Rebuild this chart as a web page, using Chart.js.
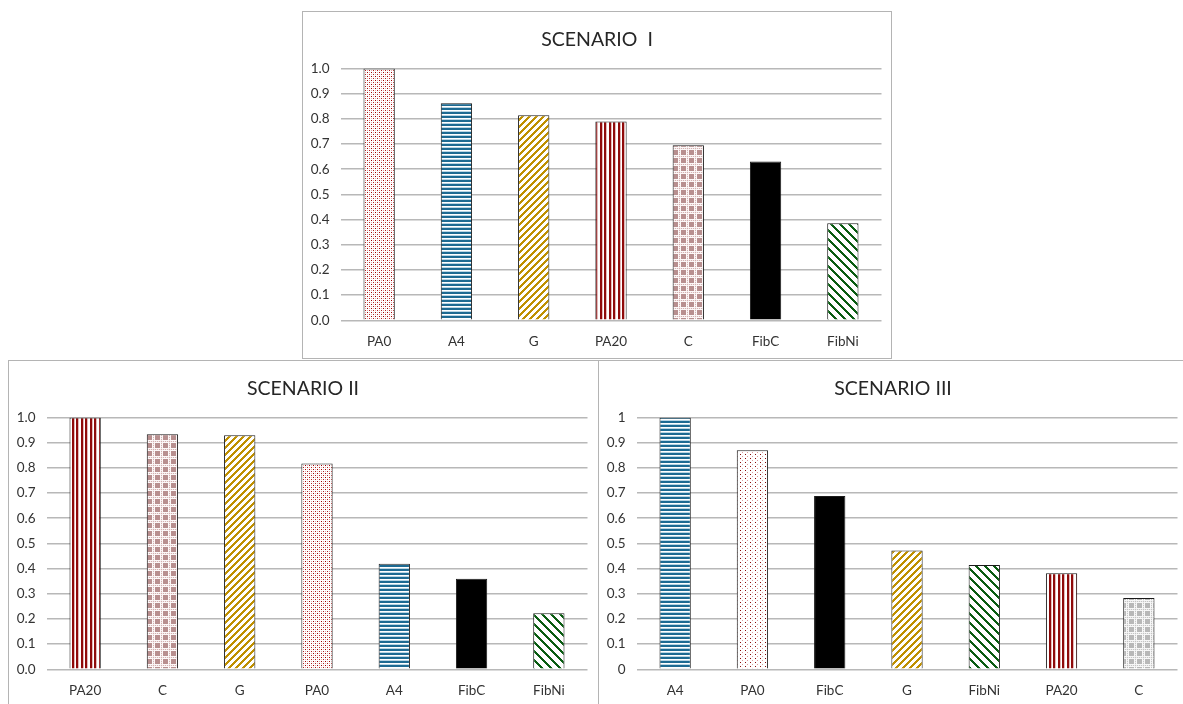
<!DOCTYPE html>
<html><head><meta charset="utf-8">
<script src="https://cdn.jsdelivr.net/npm/chart.js@4.4.1/dist/chart.umd.min.js"></script>
<style>
html,body{margin:0;padding:0;background:#fff;overflow:hidden;width:1183px;height:704px;}
.box{position:absolute;border:1px solid #b4b4b4;background:#fff;box-sizing:border-box;}
.box canvas{position:absolute;left:0;top:0;}
</style></head><body>
<div class="box" style="left:302px;top:11px;width:590px;height:348px"><canvas id="c1" width="588" height="346"></canvas></div>
<div class="box" style="left:8px;top:360px;width:591px;height:360px"><canvas id="c2" width="588" height="346"></canvas></div>
<div class="box" style="left:598px;top:360px;width:591px;height:360px"><canvas id="c3" width="588" height="346"></canvas></div>
<script>
// ---- data ----
const titleI = 'SCENARIO  I';
const categoriesI = ['PA0', 'A4', 'G', 'PA20', 'C', 'FibC', 'FibNi'];
const valuesI = [1.0, 0.862, 0.814, 0.790, 0.695, 0.631, 0.385];

const titleII = 'SCENARIO II';
const categoriesII = ['PA20', 'C', 'G', 'PA0', 'A4', 'FibC', 'FibNi'];
const valuesII = [1.0, 0.933, 0.930, 0.817, 0.419, 0.360, 0.223];

const titleIII = 'SCENARIO III';
const categoriesIII = ['A4', 'PA0', 'FibC', 'G', 'FibNi', 'PA20', 'C'];
const valuesIII = [1.0, 0.870, 0.688, 0.472, 0.414, 0.381, 0.283];

const tickLabelsOneDecimal = ['0.0','0.1','0.2','0.3','0.4','0.5','0.6','0.7','0.8','0.9','1.0'];
const tickLabelsPlain = ['0','0.1','0.2','0.3','0.4','0.5','0.6','0.7','0.8','0.9','1'];

// ---- patterns ----
function tile(w, h, bg, fn) {
  const c = document.createElement('canvas');
  c.width = w; c.height = h;
  const x = c.getContext('2d');
  x.fillStyle = bg; x.fillRect(0, 0, w, h);
  for (let i = 0; i < w; i++) for (let j = 0; j < h; j++) {
    const col = fn(i, j);
    if (col) { x.fillStyle = col; x.fillRect(i, j, 1, 1); }
  }
  return document.createElement('canvas').getContext('2d').createPattern(c, 'repeat');
}
const pat = {
  dotsDense: tile(4, 4, '#ffffff', (x, y) => {
    if (x === 0 && y === 0) return '#a00000';
    if (x === 2 && y === 2) return '#b02020';
    if ((x === 2 && y === 0) || (x === 0 && y === 2)) return '#e6a8a8';
    return null;
  }),
  dotsSparse: tile(5, 4, '#ffffff', (x, y) => {
    if (x === 1 && y === 1) return '#8a0a0a';
    if (x === 3 && y === 3) return '#dc9c9c';
    return null;
  }),
  hStripes: tile(1, 4, '#ffffff', (x, y) => y < 2 ? '#1d6a92' : (y === 3 ? '#b9d5e4' : null)),
  diagUp: tile(7, 7, '#ffffff', (x, y) => ((x + y) % 7) < 3 ? '#bf9000' : null),
  diagDown: tile(9, 9, '#ffffff', (x, y) => (((x - y) % 9 + 9) % 9) < 3 ? '#0a5c12' : null),
  vStripes: tile(9, 1, '#ffffff', (x) => (x === 0 || x === 1 || x === 4 || x === 5) ? '#8f0a0a' : (x === 2 || x === 6 ? '#e4b8b8' : null)),
  plaidRose: tile(8, 8, '#ffffff', (x, y) => {
    if (x >= 2 && x <= 6 && y >= 2 && y <= 6) return '#b88f8f';
    if (y === 0 || x === 0) return ((x + y) % 2 === 0) ? '#d2b0b0' : '#f5eaea';
    return '#fcf8f8';
  }),
  plaidGray: tile(8, 8, '#ffffff', (x, y) => {
    if (x >= 2 && x <= 6 && y >= 2 && y <= 6) return '#b8b8b8';
    if (y === 0 || x === 0) return ((x + y) % 2 === 0) ? '#c4c4c4' : '#ececec';
    return '#f7f7f7';
  })
};
const baseStyle = {
  PA0: pat.dotsDense, A4: pat.hStripes, G: pat.diagUp, PA20: pat.vStripes,
  C: pat.plaidRose, FibC: '#000000', FibNi: pat.diagDown
};
const styleIII = Object.assign({}, baseStyle, { PA0: pat.dotsSparse, C: pat.plaidGray });

const FONT = 'Lato, "Open Sans", sans-serif';

function build(id, title, cats, vals, styleMap, tickLabels) {
  new Chart(document.getElementById(id), {
    type: 'bar',
    data: {
      labels: cats,
      datasets: [{
        data: vals,
        backgroundColor: cats.map(c => styleMap[c]),
        borderColor: '#1a1a1a',
        borderWidth: 1,
        barPercentage: 0.405,
        categoryPercentage: 1.0
      }]
    },
    options: {
      responsive: false,
      animation: false,
      layout: { padding: 0 },
      plugins: {
        legend: { display: false },
        tooltip: { enabled: false },
        title: {
          display: true, text: title, color: '#262626',
          font: { family: FONT, size: 19.5, weight: 'normal', lineHeight: 1.2 },
          padding: { top: 16.3, bottom: 16.8 }
        }
      },
      scales: {
        x: {
          grid: { display: false, drawTicks: false },
          border: { display: false },
          ticks: { color: '#333333', font: { family: FONT, size: 13.5 }, padding: 13, maxRotation: 0, autoSkip: false },
          afterFit: s => { s.height = 37.7; }
        },
        y: {
          min: 0, max: 1,
          grid: { color: '#b8b8b8', lineWidth: 1.5, drawTicks: false },
          border: { display: false },
          ticks: {
            stepSize: 0.1, padding: 11, color: '#333333',
            font: { family: FONT, size: 13.5 },
            callback: v => tickLabels[Math.round(v * 10)]
          },
          afterFit: s => { s.width = 37.5; }
        },
        yRightSpace: {
          position: 'right', min: 0, max: 1,
          grid: { display: false, drawTicks: false },
          border: { display: false },
          ticks: { display: false },
          afterFit: s => { s.width = 9.5; }
        }
      }
    }
  });
}

build('c1', titleI, categoriesI, valuesI, baseStyle, tickLabelsOneDecimal);
build('c2', titleII, categoriesII, valuesII, baseStyle, tickLabelsOneDecimal);
build('c3', titleIII, categoriesIII, valuesIII, styleIII, tickLabelsPlain);
</script>
</body></html>
